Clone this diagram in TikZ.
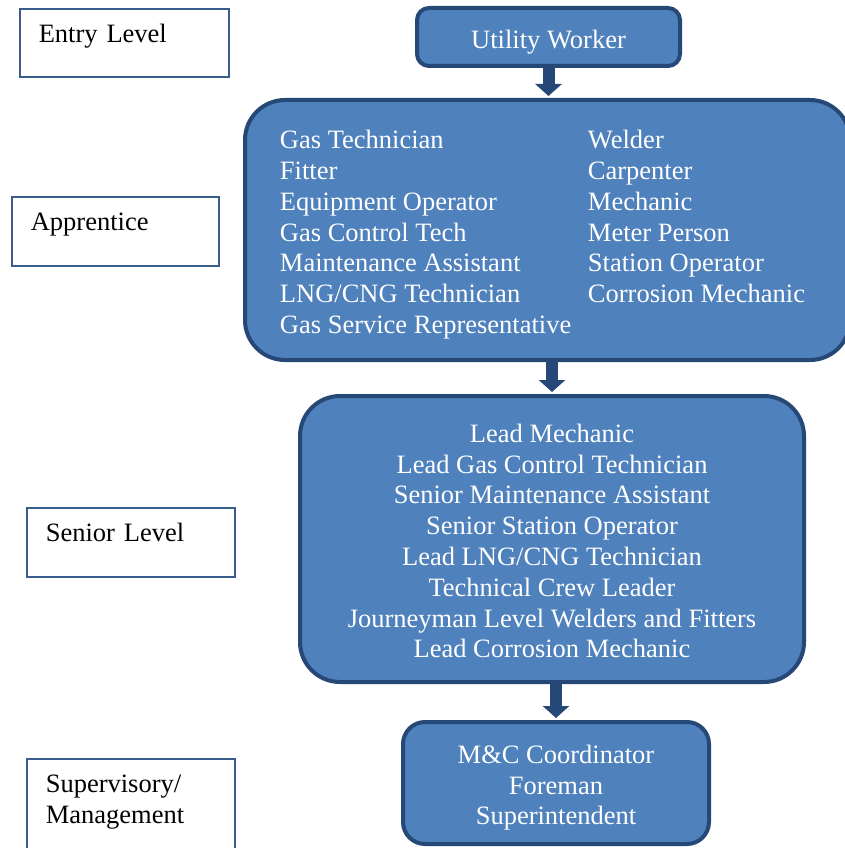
\documentclass[tikz,border=0pt]{standalone}
\usepackage{fontspec}
\setmainfont{Liberation Serif}
\usetikzlibrary{arrows.meta}
\definecolor{boxblue}{RGB}{79,129,189}
\definecolor{edgeblue}{RGB}{38,72,118}
\definecolor{lineblue}{RGB}{56,93,138}
\newcommand{\rolelines}[2][@{}c@{}]{\raisebox{0pt}[\dimexpr\height+10pt\relax]{\begin{tabular}{#1}#2\end{tabular}}}

\begin{document}
\begin{tikzpicture}[x=1pt,y=-1pt,font=\fontsize{26.5}{30.8}\selectfont,
	rolebox/.style={draw=edgeblue, line width=4pt, fill=boxblue, text=white, align=center, inner sep=0pt},
	levelbox/.style 2 args={draw=lineblue, line width=1.6pt, anchor=north west, align=left, text width=#1, inner xsep=19pt, inner ysep=0pt, text height=34pt, text depth=#2},
	promote/.style={edgeblue, line width=12pt, shorten >=2pt, -{Triangle[width=26pt,length=12pt]}}]
	
	\useasboundingbox (0,0) rectangle (845,848);
	
	\node (entry) [levelbox={171pt}{34pt}] at (19,8) {Entry Level};
	\node (apprentice) [levelbox={169pt}{35pt}] at (11,196) {Apprentice};
	\node (senior) [levelbox={170pt}{35pt}] at (26,507) {Senior Level};
	\node (management) [levelbox={170pt}{66pt}] at (26,758) {Supervisory/\\Management};
	
	\node (utility) [rolebox, rounded corners=12pt, minimum width=263pt, minimum height=58pt] at (548.5,37) {\rolelines{Utility Worker}};
	\node (trades) [rolebox, rounded corners=40pt, minimum width=605pt, minimum height=260pt] at (547.5,230) {%
		\rolelines[@{\hspace{-10pt}}p{308pt}@{}l@{}]{
			Gas Technician & Welder\\
			Fitter & Carpenter\\
			Equipment Operator & Mechanic\\
			Gas Control Tech & Meter Person\\
			Maintenance Assistant & Station Operator\\
			LNG/CNG Technician & Corrosion Mechanic\\
			Gas Service Representative &}};
	\node (leads) [rolebox, rounded corners=40pt, minimum width=504pt, minimum height=286pt] at (552,539) {%
		\rolelines{
			Lead Mechanic\\
			Lead Gas Control Technician\\
			Senior Maintenance Assistant\\
			Senior Station Operator\\
			Lead LNG/CNG Technician\\
			Technical Crew Leader\\
			Journeyman Level Welders and Fitters\\
			Lead Corrosion Mechanic}};
	\node (bosses) [rolebox, rounded corners=22pt, minimum width=306pt, minimum height=122pt] at (556,783) {%
		\rolelines{
			M\&C Coordinator\\
			Foreman\\
			Superintendent}};
	
	\draw[promote] (utility.south) -- (utility.south |- trades.north);
	\draw[promote] (leads.north |- trades.south) -- (leads.north);
	\draw[promote] (bosses.north |- leads.south) -- (bosses.north);
\end{tikzpicture}
\end{document}
